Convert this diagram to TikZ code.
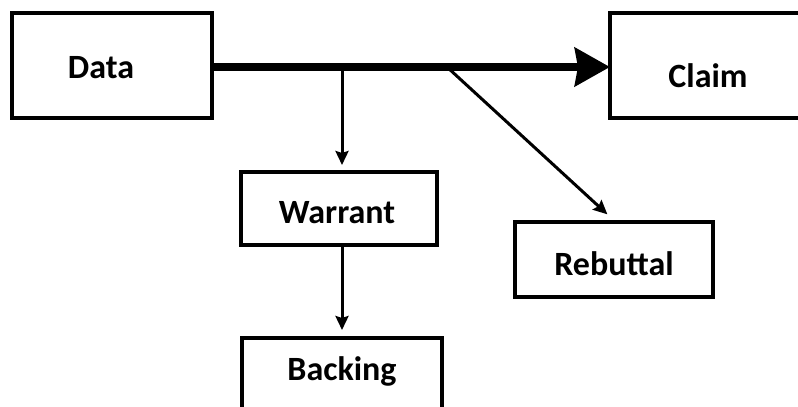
\documentclass[tikz,border=0pt]{standalone}
\usepackage{fontspec}
\setmainfont{Carlito}
\usetikzlibrary{arrows.meta}
\begin{document}
\begin{tikzpicture}[x=1pt,y=-1pt,
  box/.style={draw=black, line width=3.2pt, fill=white, rectangle, inner sep=0pt,
    font=\fontsize{34}{37}\selectfont\bfseries, text depth=0pt},
  thin/.style={draw=black, line width=3pt, -{Stealth[length=14pt,width=13pt,inset=2pt]}},
  thick/.style={draw=black, line width=8pt, -{Stealth[length=35pt,width=38pt,inset=3pt]}}]
\clip (0,0) rectangle (798,407);
\fill[white] (0,0) rectangle (798,407);
\node[box, minimum width=200pt, minimum height=105pt, text height=26pt] (data) at (112,65.5) {Data\hspace*{22pt}};
\node[box, minimum width=196pt, minimum height=105pt, text height=43pt] (claim) at (708,65.5) {Claim};
\node[box, minimum width=196pt, minimum height=73pt, text height=30pt] (warrant) at (339,208.5) {Warrant\hspace*{4pt}};
\node[box, minimum width=198pt, minimum height=75pt, text height=32pt] (rebuttal) at (614,259.5) {Rebuttal};
\node[box, minimum width=200pt, minimum height=80pt, text height=5pt] (backing) at (342,378) {Backing};
\coordinate (wbranch) at (342,67);
\coordinate (rbranch) at (447,67);
\coordinate (wtop) at (342,172);
\coordinate (btop) at (342,338);
\coordinate (wbot) at (342,245);
\coordinate (ctip) at (610,67);
\draw[thick] (data.east |- wbranch) -- (ctip);
\draw[thin, shorten >=7pt] (wbranch) -- (wtop);
\draw[thin, shorten >=8pt] (wbot) -- (btop);
\draw[thin, shorten >=9pt] (rbranch) -- (rebuttal.north);
\end{tikzpicture}
\end{document}
